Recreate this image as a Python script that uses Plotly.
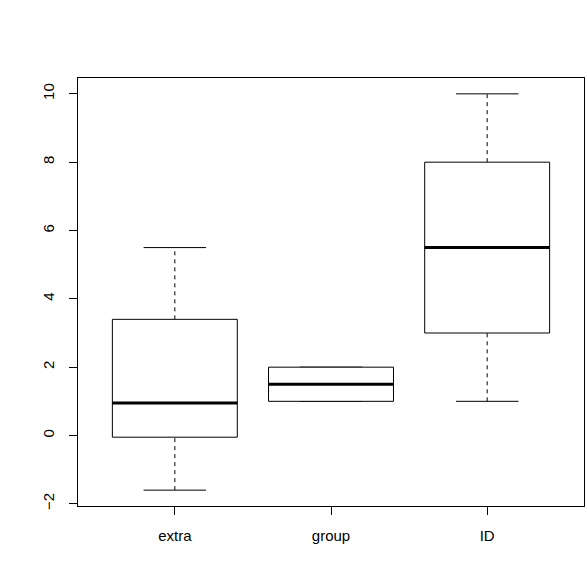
import plotly.graph_objects as go

categories = ["extra", "group", "ID"]
lower_whisker = [-1.6, 1.0, 1.0]
q1 = [-0.05, 1.0, 3.0]
median = [0.95, 1.5, 5.5]
q3 = [3.4, 2.0, 8.0]
upper_whisker = [5.5, 2.0, 10.0]
y_ticks = [-2, 0, 2, 4, 6, 8, 10]

BOX_HALF = 0.4
CAP_HALF = 0.2

fig = go.Figure()
for i, name in enumerate(categories):
    x = i + 1
    line = dict(color="black", width=1)
    # whiskers (dashed)
    fig.add_trace(go.Scatter(x=[x, x, None, x, x],
                             y=[lower_whisker[i], q1[i], None, q3[i], upper_whisker[i]],
                             mode="lines", line=dict(color="black", width=1, dash="4px,4px"),
                             hoverinfo="skip"))
    # caps
    fig.add_trace(go.Scatter(x=[x - CAP_HALF, x + CAP_HALF, None, x - CAP_HALF, x + CAP_HALF],
                             y=[lower_whisker[i], lower_whisker[i], None, upper_whisker[i], upper_whisker[i]],
                             mode="lines", line=line, hoverinfo="skip"))
    # box
    fig.add_trace(go.Scatter(x=[x - BOX_HALF, x + BOX_HALF, x + BOX_HALF, x - BOX_HALF, x - BOX_HALF],
                             y=[q1[i], q1[i], q3[i], q3[i], q1[i]],
                             mode="lines", line=line, fill="toself", fillcolor="white",
                             hoverinfo="skip"))
    # median
    fig.add_trace(go.Scatter(x=[x - BOX_HALF, x + BOX_HALF], y=[median[i], median[i]],
                             mode="lines", line=dict(color="black", width=3), hoverinfo="skip"))

fig.update_layout(
    width=586, height=585,
    margin=dict(l=78, r=2, t=78, b=79, autoexpand=False),
    plot_bgcolor="white", paper_bgcolor="white",
    showlegend=False,
    font=dict(family="Liberation Sans, Arial, sans-serif", size=15, color="black"),
)
fig.update_xaxes(range=[0.38, 3.62], tickvals=[1, 2, 3], ticktext=categories,
                 showgrid=False, zeroline=False, showline=True, mirror=True,
                 linecolor="black", linewidth=1, ticks="outside", ticklen=8,
                 tickcolor="black", ticklabelstandoff=8, automargin=False)
fig.update_yaxes(range=[-2.064, 10.464], tickvals=y_ticks,
                 showgrid=False, zeroline=False, showline=True, mirror=True,
                 linecolor="black", linewidth=1, ticks="outside", ticklen=8,
                 tickcolor="black", tickangle=-90, ticklabelstandoff=9, automargin=False)

fig.write_html("out.html", config={"displayModeBar": False},
               post_script="document.body.style.margin='0';document.body.style.overflow='hidden';")
